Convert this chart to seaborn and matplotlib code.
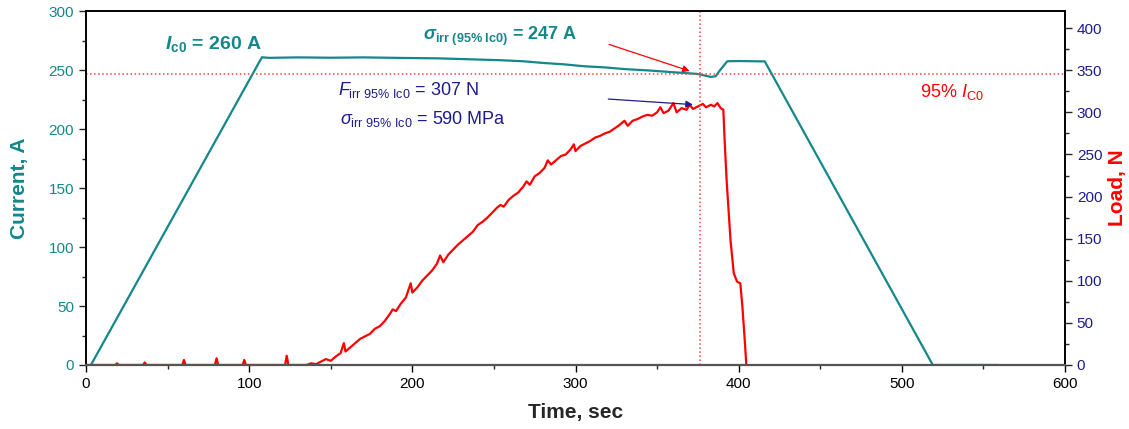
import numpy as np
import pandas as pd
import seaborn as sns
import matplotlib.pyplot as plt
from matplotlib.ticker import MultipleLocator

# Corrente (A) vs tempo (s)
t_corrente = [3, 107.8, 112, 130, 150, 170, 195, 215, 230, 254, 268, 280,
              293, 305, 318, 330, 346, 360, 374.6, 379, 383, 386, 388, 393,
              400, 416, 519, 559]
corrente = [0, 261, 260.5, 260.9, 260.6, 260.9, 260.4, 260.1, 259.5, 258.5,
            257.6, 256.2, 255.0, 253.4, 252.4, 251.0, 249.7, 248.3, 246.9,
            245.6, 244.3, 245.0, 249, 257.6, 257.8, 257.5, 0, 0]

# Carga (N) vs tempo (s)
t_carga = [0, 18, 19, 20, 35, 36, 37, 59, 60, 61, 79, 80, 81, 96, 97, 98,
           122, 123, 124, 135, 138, 141, 144, 147, 150, 153, 156, 158, 159,
           162, 165, 168, 171, 174, 177, 180, 183, 186, 188, 190, 193, 196,
           199, 200, 203, 206, 209, 212, 215, 217, 219, 222, 225, 228, 231,
           234, 237, 240, 243, 246, 249, 252, 254, 256, 259, 262, 265, 268,
           270, 272, 275, 278, 281, 283, 285, 288, 291, 294, 297, 299, 300,
           303, 306, 309, 312, 315, 318, 321, 324, 327, 330, 332, 335, 338,
           341, 344, 347, 350, 352, 354, 357, 360, 362, 365, 368, 370, 372,
           375, 378, 380, 383, 385, 387, 389, 390.6, 391.4, 392.6, 395, 397,
           399, 401, 402.3, 403.7, 404.7]
carga = [0, 0, 2, 0, 0, 3, 0, 0, 6, 0, 0, 8, 0, 0, 6, 0,
         0, 11, 0, 0, 2, 1, 4, 7, 5, 10, 14, 26, 16,
         21, 26, 31, 34, 37, 43, 46, 52, 60, 66, 64, 73, 80,
         97, 86, 92, 100, 106, 112, 120, 130, 122, 131, 137, 143, 148,
         153, 158, 166, 170, 175, 181, 187, 190, 188, 196, 201, 205, 212,
         218, 214, 224, 228, 234, 243, 238, 243, 248, 250, 256, 262, 254,
         260, 263, 266, 270, 272, 275, 277, 281, 285, 290, 284, 290, 292,
         295, 297, 296, 300, 306, 299, 302, 311, 300, 305, 303, 309, 304,
         307, 310, 306, 309, 307, 311, 305, 303, 267, 220, 148, 109,
         99, 97, 69, 30, 0]

teal = '#13878a'
azul = '#1c1c8f'
vermelho = '#ff0000'

sns.set_style('ticks')
plt.rcParams['font.family'] = ['Liberation Sans', 'DejaVu Sans']
plt.rcParams['mathtext.fontset'] = 'custom'
plt.rcParams['mathtext.rm'] = 'Liberation Sans'
plt.rcParams['mathtext.it'] = 'Liberation Sans:italic'
plt.rcParams['mathtext.bf'] = 'Liberation Sans:bold'
plt.rcParams['mathtext.bfit'] = 'Liberation Sans:bold:italic'

df_i = pd.DataFrame({'tempo': t_corrente, 'corrente': corrente})
df_f = pd.DataFrame({'tempo': t_carga, 'carga': carga})

fig = plt.figure(figsize=(11.29, 4.29), dpi=100)
ax = fig.add_axes([0.0762, 0.1492, 0.8671, 0.8245])
ax2 = ax.twinx()

sns.lineplot(data=df_f, x='tempo', y='carga', ax=ax2, color=vermelho,
             linewidth=1.6, estimator=None, sort=False)
sns.lineplot(data=df_i, x='tempo', y='corrente', ax=ax, color=teal,
             linewidth=1.6, estimator=None, sort=False)
ax.set_zorder(ax2.get_zorder() + 1)
ax.patch.set_visible(False)

# Linhas de referência (95% Ic0)
ax.axhline(247, color='#ff4040', linestyle=':', linewidth=1.1)
ax.axvline(376, color='#ff4040', linestyle=':', linewidth=1.1)

ax.set_xlim(0, 600)
ax.set_ylim(0, 300)
ax2.set_ylim(0, 420)
ax.xaxis.set_major_locator(MultipleLocator(100))
ax.xaxis.set_minor_locator(MultipleLocator(50))
ax.yaxis.set_major_locator(MultipleLocator(50))
ax.yaxis.set_minor_locator(MultipleLocator(25))
ax2.yaxis.set_major_locator(MultipleLocator(50))
ax2.yaxis.set_minor_locator(MultipleLocator(25))

ax.set_xlabel('Time, sec', fontsize=15, fontweight='bold', labelpad=9)
ax.set_ylabel('Current, A', fontsize=15, fontweight='bold', color=teal, labelpad=14)
ax2.set_ylabel('Load, N', fontsize=15, fontweight='bold', color=vermelho, labelpad=4)

ax.tick_params(axis='x', labelsize=11, colors='black', direction='out', length=5, width=1)
ax.tick_params(axis='x', which='minor', length=3, width=1)
ax.tick_params(axis='y', labelsize=11, labelcolor=teal, direction='out', length=5, width=1)
ax.tick_params(axis='y', which='minor', length=3, width=1)
ax2.tick_params(axis='y', labelsize=11, labelcolor=azul, direction='out', length=5, width=1)
ax2.tick_params(axis='y', which='minor', length=3, width=1)
for a in (ax, ax2):
    for s in a.spines.values():
        s.set_visible(True)
        s.set_color('black')
        s.set_linewidth(1.2)
ax.spines['bottom'].set_color('#555555')
ax.spines['bottom'].set_linewidth(1.6)

# Anotações
ax.text(48.5, 267.8, r'$\mathbfit{I}_{\mathbf{c0}}$ = 260 A', color=teal,
        fontsize=14, fontweight='bold', va='baseline')
ax.text(206.7, 275.4, r'$\mathbfit{\sigma}_{\mathbf{irr\ (95\%\ Ic0)}}$ = 247 A',
        color=teal, fontsize=13, fontweight='bold', va='baseline')
ax.text(154.6, 229, r'$\mathit{F}_{\mathrm{irr\ 95\%\ Ic0}}$ = 307 N', color=azul,
        fontsize=13, va='baseline')
ax.text(155.8, 204.8, r'$\mathit{\sigma}_{\mathrm{irr\ 95\%\ Ic0}}$ = 590 MPa', color=azul,
        fontsize=13, va='baseline')
ax.text(511, 227.4, r'95% $\mathit{I}_{\mathrm{C0}}$', color=vermelho,
        fontsize=13, va='baseline')

ax.annotate('', xy=(371.6, 248.6), xytext=(319, 272.6),
            arrowprops=dict(arrowstyle='-|>', color=vermelho, lw=0.9,
                            mutation_scale=10))
ax2.annotate('', xy=(373.6, 309), xytext=(318.4, 316),
             arrowprops=dict(arrowstyle='-|>', color=azul, lw=0.9,
                             mutation_scale=10))

plt.savefig('out.png', dpi=100)
